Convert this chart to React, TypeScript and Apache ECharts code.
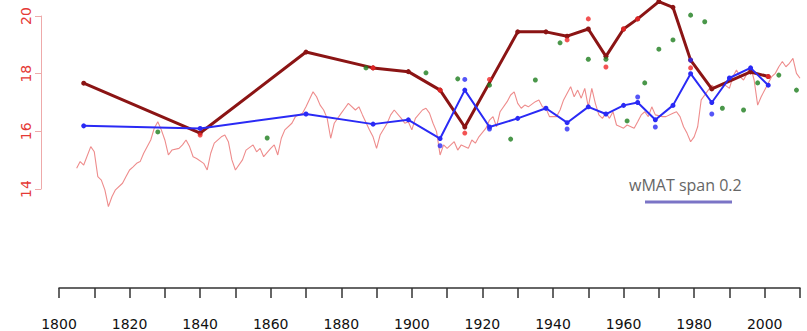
import React, { useEffect, useRef } from "react";
import * as echarts from "echarts";

// Annual mean temperature record
const annualYears = [
  1805, 1806, 1807, 1809, 1810, 1811, 1812, 1813, 1814, 1815, 1816, 1818, 1819, 1820, 1821, 1822, 1823, 1824,
  1826, 1827, 1828, 1829, 1830, 1831, 1832, 1834, 1835, 1836, 1837, 1838, 1839, 1841, 1842, 1843, 1844, 1846,
  1847, 1848, 1849, 1850, 1852, 1853, 1855, 1856, 1857, 1858, 1860, 1861, 1862, 1863, 1864, 1866, 1867, 1869,
  1870, 1872, 1873, 1874, 1875, 1876, 1877, 1878, 1880, 1881, 1882, 1884, 1885, 1886, 1888, 1889, 1890, 1891,
  1893, 1894, 1895, 1897, 1898, 1899, 1900, 1901, 1903, 1904, 1905, 1906, 1907, 1908, 1909, 1910, 1912, 1913,
  1914, 1916, 1917, 1918, 1919, 1921, 1922, 1923, 1924, 1925, 1927, 1928, 1929, 1930, 1931, 1932, 1933, 1935,
  1936, 1937, 1938, 1939, 1941, 1942, 1943, 1945, 1946, 1947, 1948, 1949, 1950, 1951, 1952, 1953, 1954, 1955,
  1956, 1957, 1958, 1960, 1961, 1963, 1964, 1965, 1966, 1967, 1968, 1969, 1971, 1972, 1974, 1975, 1976, 1977,
  1978, 1979, 1980, 1981, 1982, 1983, 1984, 1985, 1986, 1988, 1990, 1991, 1992, 1993, 1994, 1995, 1996, 1997,
  1998, 1999, 2001, 2002, 2003, 2004, 2005, 2006, 2007, 2008, 2009, 2010,
];
const annualTemps = [
  14.72, 14.95, 14.83, 15.47, 15.29, 14.43, 14.31, 13.97, 13.39, 13.73, 13.97, 14.2, 14.43, 14.66, 14.77, 14.89, 14.95, 15.24,
  15.7, 16.11, 16.33, 16.05, 15.7, 15.18, 15.35, 15.41, 15.53, 15.7, 15.47, 15.12, 15.06, 14.89, 14.66, 15.24, 15.59, 15.81,
  15.87, 15.64, 15.01, 14.66, 15.01, 15.35, 15.53, 15.29, 15.41, 15.12, 15.41, 15.53, 15.18, 15.76, 16.05, 16.28, 16.51, 16.63,
  16.85, 17.37, 17.2, 16.91, 16.74, 16.45, 15.76, 16.28, 16.63, 16.8, 16.97, 16.74, 16.85, 16.57, 16.05, 15.81, 15.41, 15.87,
  16.28, 16.57, 16.74, 16.45, 16.28, 16.33, 16.05, 16.45, 16.74, 16.8, 16.63, 16.28, 15.99, 15.18, 15.53, 15.41, 15.64, 15.35,
  15.53, 15.41, 15.7, 15.59, 15.81, 16.11, 16.39, 16.51, 16.16, 16.68, 17.03, 17.26, 17.37, 16.97, 16.8, 16.91, 16.85, 17.03,
  17.09, 16.85, 16.8, 16.51, 16.51, 16.74, 17.09, 17.55, 17.2, 17.43, 17.15, 17.49, 16.85, 17.49, 16.97, 16.57, 16.45, 16.63,
  16.45, 16.68, 16.22, 16.11, 16.22, 16.11, 16.33, 16.57, 16.68, 16.51, 16.85, 16.57, 16.51, 16.51, 16.63, 16.68, 16.51, 16.16,
  15.93, 15.64, 15.81, 16.16, 17.09, 17.26, 17.43, 17.6, 17.49, 17.67, 17.49, 17.9, 18.13, 17.9, 17.78, 18.01, 18.24, 17.78,
  16.91, 17.2, 17.67, 17.9, 18.01, 18.24, 18.42, 18.24, 18.36, 18.53, 18.01, 17.84,
];

// Reconstructed mean temperature (dark red curve)
const reconYears = [1807, 1840, 1870, 1889, 1899, 1908, 1915, 1930, 1938, 1944, 1950, 1955, 1960, 1964, 1970, 1974, 1979, 1985, 1996, 2001];
const reconTemps = [17.67, 15.94, 18.75, 18.2, 18.07, 17.43, 16.15, 19.45, 19.45, 19.3, 19.55, 18.6, 19.55, 19.9, 20.5, 20.3, 18.47, 17.47, 18.06, 17.9];

// wMAT, span 0.2 (blue curve)
const wmatYears = [1807, 1840, 1870, 1889, 1899, 1908, 1915, 1922, 1930, 1938, 1944, 1950, 1955, 1960, 1964, 1969, 1974, 1979, 1985, 1990, 1996, 2001];
const wmatTemps = [16.19, 16.1, 16.6, 16.25, 16.4, 15.75, 17.43, 16.15, 16.45, 16.8, 16.3, 16.85, 16.6, 16.9, 17.0, 16.4, 16.9, 18.0, 17.0, 17.85, 18.2, 17.6];

// Individual sample estimates
const redYears = [1840, 1889, 1908, 1915, 1922, 1944, 1950, 1955, 1960, 1964, 1979, 2001];
const redTemps = [15.87, 18.2, 17.43, 15.94, 17.8, 19.17, 19.9, 18.23, 19.55, 19.9, 18.2, 17.9];

const greenYears = [1828, 1859, 1887, 1904, 1913, 1922, 1928, 1935, 1942, 1950, 1955, 1961, 1966, 1970, 1974, 1979, 1983, 1988, 1994, 1998, 2004, 2009];
const greenTemps = [15.98, 15.77, 18.2, 18.03, 17.82, 17.6, 15.73, 17.78, 19.07, 18.5, 18.5, 16.36, 17.68, 18.85, 19.17, 20.03, 19.8, 16.8, 16.74, 17.68, 17.95, 17.43];

const blueYears = [1908, 1915, 1922, 1944, 1964, 1969, 1979, 1985];
const blueTemps = [15.5, 17.8, 16.08, 16.08, 17.19, 16.15, 18.47, 16.6];

const pairs = (xs: number[], ys: number[]) => xs.map((x, i) => [x, ys[i]]);

export default function App() {
  const ref = useRef<HTMLDivElement>(null);

  useEffect(() => {
    if (!ref.current) return;
    const chart = echarts.init(ref.current, undefined, { renderer: "svg" });

    const dot = (name: string, color: string, data: number[][]) => ({
      name,
      type: "scatter",
      data,
      symbol: "circle",
      symbolSize: 5,
      itemStyle: { color },
      clip: false,
      z: 5,
    });

    chart.setOption({
      animation: false,
      backgroundColor: "#ffffff",
      grid: { left: 59, right: 7, top: 16, bottom: 142, containLabel: false },
      xAxis: {
        type: "value",
        min: 1800,
        max: 2010,
        interval: 10,
        offset: 99,
        axisLine: { show: true, lineStyle: { color: "#333", width: 1.5 } },
        axisTick: { show: true, length: 10, lineStyle: { color: "#333", width: 1.5 } },
        axisLabel: {
          formatter: (v: number) => (v % 20 === 0 ? String(v) : ""),
          margin: 29,
          fontSize: 14,
          color: "#111",
          fontFamily: "DejaVu Sans",
        },
        splitLine: { show: false },
      },
      yAxis: {
        type: "value",
        min: 14,
        max: 20,
        interval: 2,
        offset: 18,
        axisLine: { show: true, lineStyle: { color: "#eeaaaa", width: 1 } },
        axisTick: { show: true, length: 6, lineStyle: { color: "#eeaaaa" } },
        axisLabel: {
          rotate: 90,
          margin: 8,
          fontSize: 14,
          color: "#e53935",
          fontFamily: "DejaVu Sans",
        },
        splitLine: { show: false },
      },
      series: [
        {
          name: "annual",
          type: "line",
          data: pairs(annualYears, annualTemps),
          showSymbol: false,
          lineStyle: { color: "#ee8c8c", width: 1.1 },
          clip: false,
          z: 1,
        },
        {
          name: "reconstruction",
          type: "line",
          data: pairs(reconYears, reconTemps),
          symbol: "circle",
          symbolSize: 5,
          itemStyle: { color: "#8b1414" },
          lineStyle: { color: "#8b1414", width: 3 },
          clip: false,
          z: 3,
        },
        {
          name: "wMAT span 0.2",
          type: "line",
          data: pairs(wmatYears, wmatTemps),
          symbol: "circle",
          symbolSize: 5,
          itemStyle: { color: "#2a2af5" },
          lineStyle: { color: "#2a2af5", width: 2 },
          clip: false,
          z: 4,
        },
        dot("red", "#f02828", pairs(redYears, redTemps)),
        dot("green", "#1d7d1d", pairs(greenYears, greenTemps)),
        dot("blue", "#2a2af5", pairs(blueYears, blueTemps)),
      ],
      graphic: [
        {
          type: "text",
          left: 629,
          top: 177,
          style: {
            text: "wMAT span 0.2",
            fill: "#666",
            fontSize: 16,
            fontFamily: "Open Sans",
          },
        },
        {
          type: "line",
          shape: { x1: 645, y1: 202, x2: 732, y2: 202 },
          style: { stroke: "#7b74c6", lineWidth: 3 },
        },
      ],
    });

    return () => chart.dispose();
  }, []);

  return (
    <div
      ref={ref}
      style={{ position: "fixed", left: 0, top: 0, width: 807, height: 331 }}
    />
  );
}
